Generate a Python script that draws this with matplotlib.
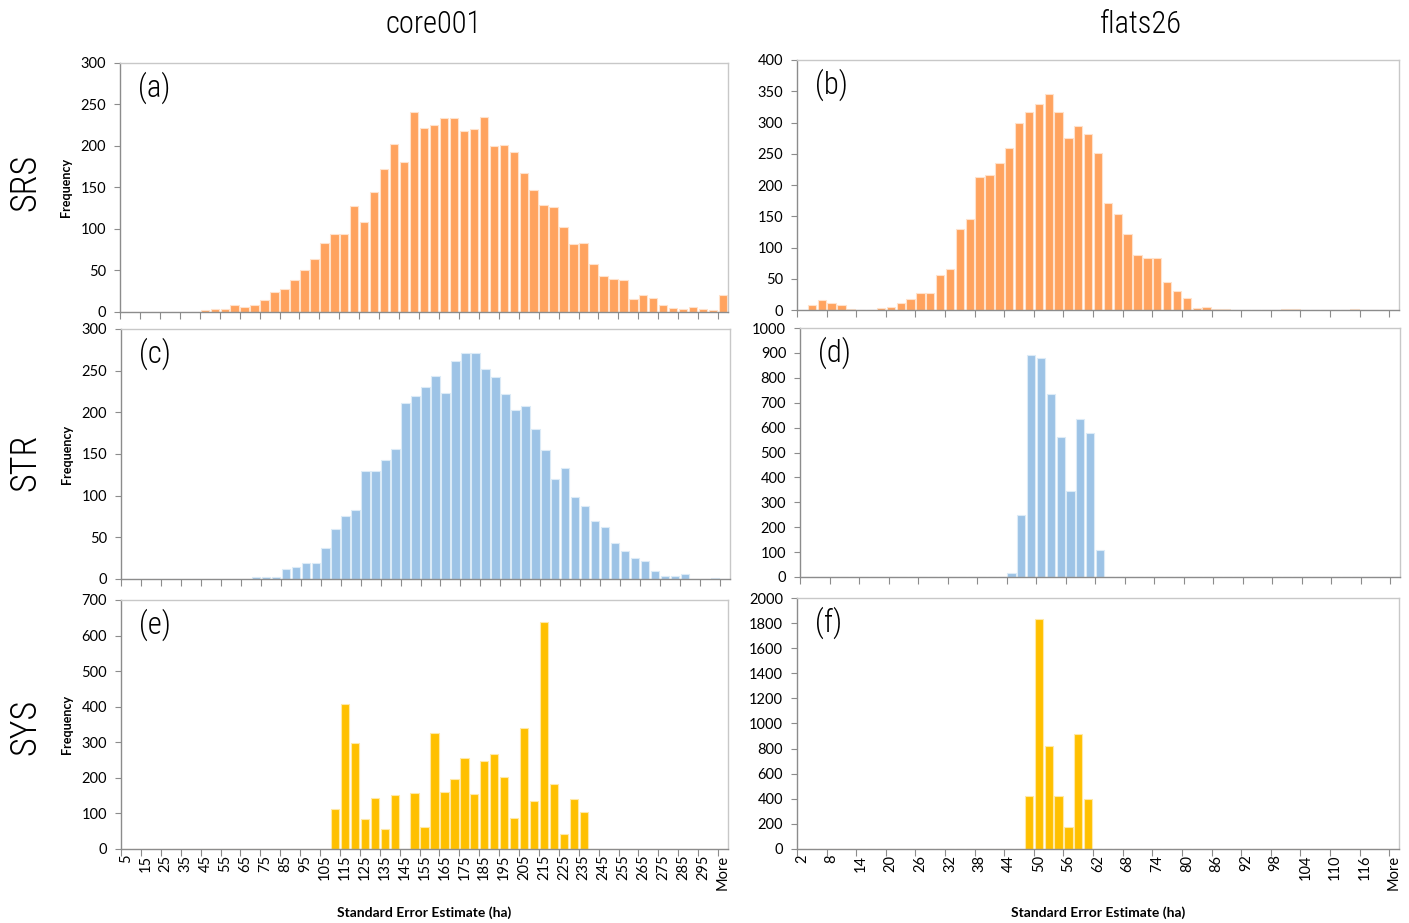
import matplotlib
matplotlib.use("Agg")
import matplotlib.pyplot as plt
from matplotlib.ticker import FixedLocator, NullFormatter

# category labels of the two histogram columns
core_bins = [str(v) for v in range(5, 305, 5)] + ["More"]
flats_bins = [str(v) for v in range(2, 122, 2)] + ["More"]

# core001 counts
srs_core = [0, 0, 0, 0, 0, 0, 0, 0, 2, 4, 3, 8, 6, 9, 15, 24, 28, 38, 50, 64,
            83, 94, 94, 128, 108, 145, 172, 202, 181, 241, 222, 225, 234, 234,
            218, 220, 235, 200, 201, 193, 167, 147, 129, 127, 102, 82, 83, 58,
            43, 40, 39, 16, 21, 17, 9, 5, 4, 6, 3, 2, 21]
str_core = [0, 0, 0, 0, 0, 0, 0, 0, 0, 0, 0, 0, 0, 2, 2, 2, 12, 14, 19, 19,
            37, 60, 75, 83, 129, 130, 143, 156, 211, 220, 230, 244, 223, 262,
            271, 271, 252, 242, 222, 203, 207, 180, 155, 120, 133, 98, 87, 70,
            62, 43, 33, 25, 21, 9, 4, 4, 6, 0, 0, 1, 0]
sys_core = [0, 0, 0, 0, 0, 0, 0, 0, 0, 0, 0, 0, 0, 0, 0, 0, 0, 0, 0, 0,
            0, 113, 408, 299, 83, 143, 55, 153, 0, 158, 62, 327, 161, 197,
            256, 155, 247, 267, 203, 87, 340, 134, 639, 183, 41, 141, 104, 0,
            0, 0, 0, 0, 0, 0, 0, 0, 0, 0, 0, 0, 0]

# flats26 counts
srs_flats = [0, 8, 16, 12, 8, 2, 0, 0, 3, 5, 11, 18, 27, 28, 56, 66, 129, 146,
             213, 216, 235, 259, 300, 317, 329, 345, 317, 276, 295, 281, 252,
             172, 154, 121, 88, 83, 83, 45, 30, 20, 4, 5, 2, 2, 0, 0, 0, 0, 0,
             1, 1, 0, 0, 0, 0, 0, 1, 0, 0, 0, 0]
str_flats = [0, 0, 0, 0, 0, 0, 0, 0, 0, 0, 0, 0, 0, 0, 0, 0, 0, 0, 0, 0,
             0, 16, 250, 893, 880, 734, 561, 346, 635, 580, 107, 0, 0, 0, 0,
             0, 0, 0, 0, 0, 0, 0, 0, 0, 0, 0, 0, 0, 0, 0, 0, 0, 0, 0, 0, 0,
             0, 0, 0, 0, 0]
sys_flats = [0, 0, 0, 0, 0, 0, 0, 0, 0, 0, 0, 0, 0, 0, 0, 0, 0, 0, 0, 0,
             0, 0, 0, 420, 1835, 822, 425, 172, 916, 397, 0, 0, 0, 0, 0, 0,
             0, 0, 0, 0, 0, 0, 0, 0, 0, 0, 0, 0, 0, 0, 0, 0, 0, 0, 0, 0, 0,
             0, 0, 0, 0]

row_names = ["SRS", "STR", "SYS"]
col_names = ["core001", "flats26"]
panel_tags = ["(a)", "(b)", "(c)", "(d)", "(e)", "(f)"]

ORANGE = "#FFA35F"
BLUE = "#9DC3E6"
GOLD = "#FFC000"
NARROW = ["Roboto Condensed", "Liberation Sans Narrow", "Open Sans Condensed",
          "Lato", "DejaVu Sans"]
TEXT = ["Lato", "DejaVu Sans"]


def draw_panel(ax, values, labels, color, edge, ymax, ystep, label_step,
               tag, bottom_row):
    """
    Draw one Excel-style histogram panel.
    """

    x = list(range(len(values)))
    ax.bar(x, values, width=0.84, color=color, edgecolor=edge,
           linewidth=0.8, zorder=2)
    ax.set_xlim(-0.5, len(values) - 0.5)
    ax.set_ylim(0, ymax)
    ax.set_yticks(list(range(0, ymax + 1, ystep)))

    for side in ["top", "right"]:
        ax.spines[side].set_color("#C8C8C8")
    for side in ["left", "bottom"]:
        ax.spines[side].set_color("#8C8C8C")
    for sp in ax.spines.values():
        sp.set_linewidth(1.0)

    # ticks on category boundaries, labels on category centres
    bounds = [i - 0.5 for i in range(0, len(values), label_step)]
    ax.xaxis.set_major_locator(FixedLocator(bounds))
    ax.xaxis.set_major_formatter(NullFormatter())
    centres = list(range(0, len(values), label_step))
    ax.xaxis.set_minor_locator(FixedLocator(centres))
    if bottom_row:
        ax.set_xticklabels([labels[i] for i in centres], minor=True,
                           rotation=90, fontsize=10.5, family=TEXT)
    else:
        ax.xaxis.set_minor_formatter(NullFormatter())
    ax.tick_params(axis="x", which="major", length=5, color="#8C8C8C",
                   direction="out")
    ax.tick_params(axis="x", which="minor", length=0, pad=4)
    ax.tick_params(axis="y", length=4, color="#8C8C8C", labelsize=10.5,
                   pad=6)
    for t in ax.get_yticklabels():
        t.set_family(TEXT)

    ax.text(0.03, 0.9, tag, transform=ax.transAxes, fontsize=22,
            family=NARROW, fontweight="light", va="center", ha="left")


def main():
    """
    Build the 3x2 grid of histograms and save it.
    """

    fig = plt.figure(figsize=(14.09, 9.23), dpi=100)

    boxes_left = [(0.0852, 0.6620, 0.4315, 0.2698),
                  (0.0859, 0.3727, 0.4322, 0.2709),
                  (0.0859, 0.0802, 0.4308, 0.2698)]
    boxes_right = [(0.5657, 0.6641, 0.4272, 0.2709),
                   (0.5678, 0.3749, 0.4258, 0.2697),
                   (0.5657, 0.0802, 0.4272, 0.2719)]

    core_data = [srs_core, str_core, sys_core]
    flats_data = [srs_flats, str_flats, sys_flats]
    colors = [(ORANGE, "#FFE2CC"), (BLUE, "#DCEBF7"), (GOLD, "#FFE9A6")]
    core_y = [(300, 50), (300, 50), (700, 100)]
    flats_y = [(400, 50), (1000, 100), (2000, 200)]

    for r in range(3):
        bottom = r == 2
        ax = fig.add_axes(boxes_left[r])
        draw_panel(ax, core_data[r], core_bins, colors[r][0], colors[r][1],
                   core_y[r][0], core_y[r][1], 2, panel_tags[2 * r], bottom)
        ax.set_ylabel("Frequency", fontsize=9, fontweight="bold",
                      family=TEXT, labelpad=6)
        if bottom:
            ax.set_xlabel("Standard Error Estimate (ha)", fontsize=10,
                          fontweight="bold", family=TEXT, labelpad=12)

        ax = fig.add_axes(boxes_right[r])
        draw_panel(ax, flats_data[r], flats_bins, colors[r][0], colors[r][1],
                   flats_y[r][0], flats_y[r][1], 3, panel_tags[2 * r + 1],
                   bottom)
        if bottom:
            ax.set_xlabel("Standard Error Estimate (ha)", fontsize=10,
                          fontweight="bold", family=TEXT, labelpad=12)

    row_y = [0.802, 0.499, 0.212]
    for name, y in zip(row_names, row_y):
        fig.text(0.018, y, name, rotation=90, fontsize=26, family=NARROW,
                 fontweight="light", ha="center", va="center")

    fig.text(0.308, 0.973, col_names[0], fontsize=22, family=NARROW,
             fontweight="light", ha="center", va="center")
    fig.text(0.810, 0.973, col_names[1], fontsize=22, family=NARROW,
             fontweight="light", ha="center", va="center")

    fig.savefig("out.png", dpi=100, facecolor="white")


if __name__ == "__main__":

    main()
